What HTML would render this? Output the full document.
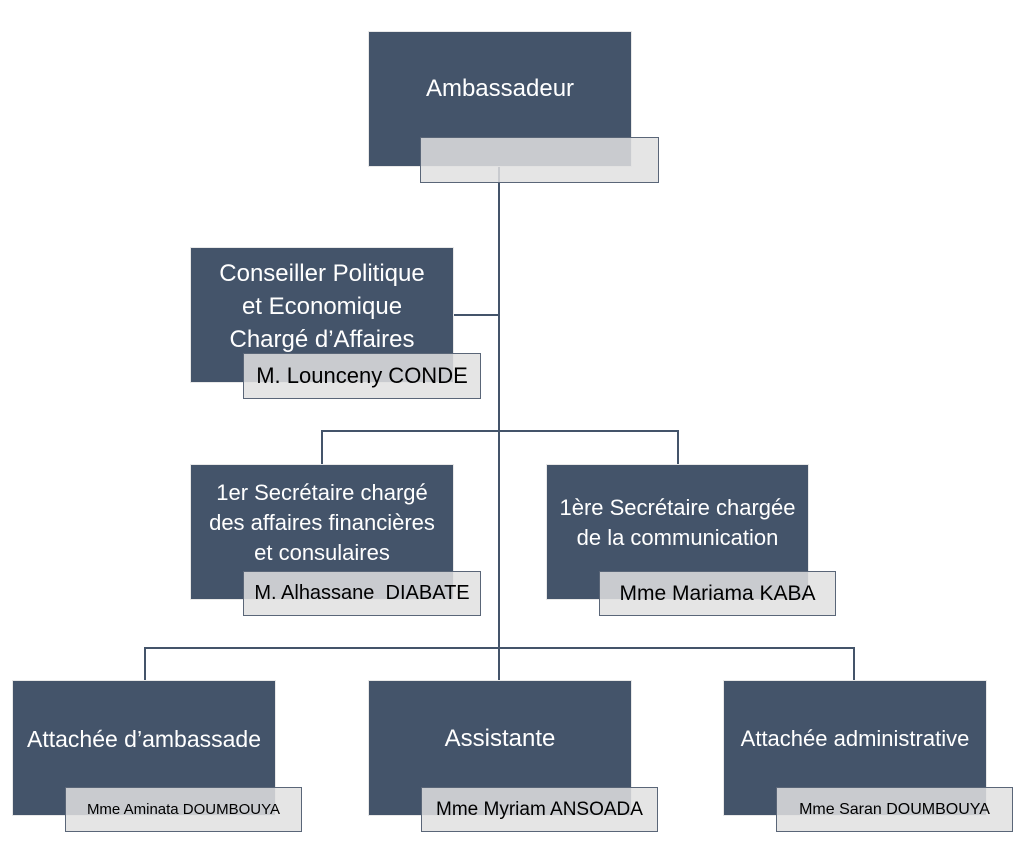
<!DOCTYPE html>
<html><head><meta charset="utf-8"><style>
body{margin:0;width:1024px;height:863px;background:#fff;position:relative;font-family:"Liberation Sans",sans-serif;overflow:hidden}
.b{position:absolute;background:#44546a;color:#fff;font-size:24px;line-height:30px;text-align:center;display:flex;justify-content:center;box-sizing:border-box;border:1px solid #e8e8e8;white-space:nowrap}
.n{position:absolute;background:rgba(225,225,225,0.85);border:1.5px solid #5a6678;box-sizing:border-box;color:#000;display:flex;align-items:center;justify-content:center;white-space:nowrap}
.l{position:absolute;background:#44546a}
</style></head><body>
<div class="l" style="left:498px;top:167px;width:2px;height:513px"></div>
<div class="l" style="left:454px;top:314px;width:45px;height:2px"></div>
<div class="l" style="left:321px;top:430px;width:358px;height:2px"></div>
<div class="l" style="left:321px;top:430px;width:2px;height:34px"></div>
<div class="l" style="left:677px;top:430px;width:2px;height:34px"></div>
<div class="l" style="left:144px;top:647px;width:711px;height:2px"></div>
<div class="l" style="left:144px;top:647px;width:2px;height:33px"></div>
<div class="l" style="left:853px;top:647px;width:2px;height:33px"></div>

<div class="b" style="left:368px;top:31px;width:264px;height:136px;padding-top:42px">Ambassadeur</div>
<div class="n" style="left:420px;top:137px;width:239px;height:46px"></div>

<div class="b" style="left:190px;top:247px;width:264px;height:136px;padding-top:9px;line-height:33px">Conseiller Politique<br>et Economique<br>Chargé d’Affaires</div>
<div class="n" style="left:243px;top:353px;width:238px;height:46px;font-size:22px">M. Lounceny CONDE</div>

<div class="b" style="left:190px;top:464px;width:264px;height:136px;padding-top:13px;font-size:22px">1er Secrétaire chargé<br>des affaires financières<br>et consulaires</div>
<div class="n" style="left:243px;top:571px;width:238px;height:45px;font-size:20px">M. Alhassane&nbsp; DIABATE</div>

<div class="b" style="left:546px;top:464px;width:263px;height:136px;padding-top:28px;font-size:22px">1ère Secrétaire chargée<br>de la communication</div>
<div class="n" style="left:599px;top:571px;width:237px;height:45px;font-size:21px">Mme Mariama KABA</div>

<div class="b" style="left:12px;top:680px;width:264px;height:136px;padding-top:43px;font-size:23px">Attachée d’ambassade</div>
<div class="n" style="left:65px;top:787px;width:237px;height:45px;font-size:15px">Mme Aminata DOUMBOUYA</div>

<div class="b" style="left:368px;top:680px;width:264px;height:136px;padding-top:43px">Assistante</div>
<div class="n" style="left:421px;top:787px;width:237px;height:45px;font-size:19px">Mme Myriam ANSOADA</div>

<div class="b" style="left:723px;top:680px;width:264px;height:136px;padding-top:43px;font-size:22px">Attachée administrative</div>
<div class="n" style="left:776px;top:787px;width:237px;height:45px;font-size:16px">Mme Saran DOUMBOUYA</div>
</body></html>
